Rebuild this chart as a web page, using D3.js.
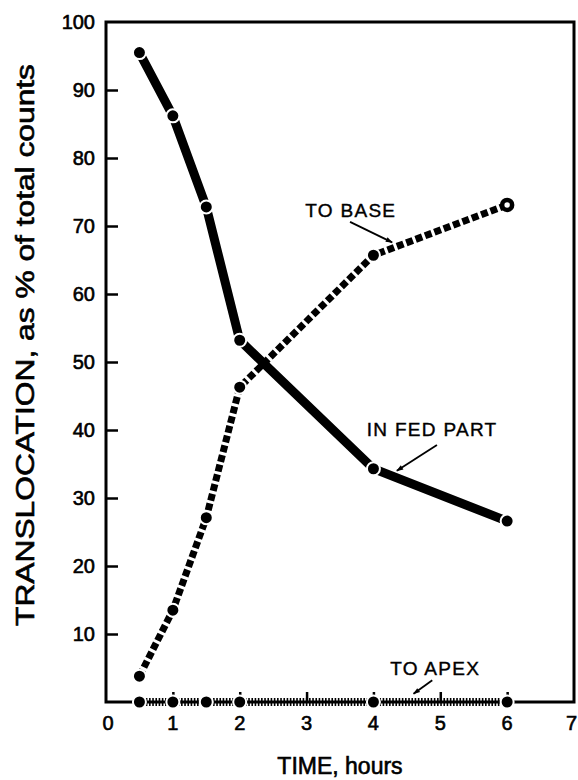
<!DOCTYPE html>
<html>
<head>
<meta charset="utf-8">
<script src="https://cdn.jsdelivr.net/npm/d3@7"></script>
<style>
  body { margin: 0; background: #fff; }
  svg { display: block; font-family: "Liberation Sans", Arial, sans-serif; }
</style>
</head>
<body>
<div id="chart"></div>
<script>
// Data
const hours = [0.5, 1, 1.5, 2, 4, 6];
const fedPart = [95.5, 86.2, 72.8, 53.2, 34.3, 26.6];
const toBase = [3.8, 13.5, 27.1, 46.3, 65.7, 73.1];
const toApex = [0, 0, 0, 0, 0, 0];
const xTicks = [0, 1, 2, 3, 4, 5, 6, 7];
const yTicks = [10, 20, 30, 40, 50, 60, 70, 80, 90, 100];
const notes = [
  {text: "TO BASE", x: 2.98, y: 71.3, ax1: 3.65, ay1: 70.6, ax2: 4.28, ay2: 67.6},
  {text: "IN FED PART", x: 3.9, y: 39.1, ax1: 4.95, ay1: 37.8, ax2: 4.35, ay2: 34.0},
  {text: "TO APEX", x: 4.25, y: 4.0, ax1: 4.88, ay1: 3.2, ax2: 4.6, ay2: 1.2}
];

const WIDTH = 578, HEIGHT = 780;
const LEFT = 106, RIGHT = 574, TOP = 22, BOTTOM = 702;

const svg = d3.select("#chart").append("svg")
    .attr("width", WIDTH)
    .attr("height", HEIGHT);

const defs = svg.append("defs");
defs.append("marker")
    .attr("id", "arrow")
    .attr("viewBox", "0 0 10 10")
    .attr("refX", 9).attr("refY", 5)
    .attr("markerWidth", 9).attr("markerHeight", 7)
    .attr("markerUnits", "userSpaceOnUse")
    .attr("orient", "auto")
  .append("path")
    .attr("d", "M0,1.5 L10,5 L0,8.5 Z")
    .attr("fill", "#000");

const x = d3.scaleLinear().domain([0, 7]).range([LEFT, RIGHT]);
const y = d3.scaleLinear().domain([0, 100]).range([BOTTOM, TOP]);

// frame
svg.append("rect")
    .attr("x", LEFT).attr("y", TOP)
    .attr("width", RIGHT - LEFT).attr("height", BOTTOM - TOP)
    .attr("fill", "none").attr("stroke", "#000").attr("stroke-width", 3);

// Axes (ticks point inward)
const yAxis = d3.axisRight(y).tickValues(yTicks.slice(0, -1)).tickSize(12).tickFormat("");
svg.append("g").attr("transform", "translate(" + LEFT + ",0)").call(yAxis)
    .call(g => g.select(".domain").remove())
    .selectAll("line").attr("stroke-width", 2.5);

const xAxis = d3.axisTop(x).tickValues(xTicks.slice(1, -1)).tickSize(10).tickFormat("");
svg.append("g").attr("transform", "translate(0," + BOTTOM + ")").call(xAxis)
    .call(g => g.select(".domain").remove())
    .selectAll("line").attr("stroke-width", 2.5);

// tick labels
svg.append("g").selectAll("text")
    .data(yTicks)
    .enter().append("text")
    .attr("x", LEFT - 11)
    .attr("y", d => y(d) + 7)
    .attr("text-anchor", "end")
    .attr("stroke", "#000").attr("stroke-width", 0.6)
    .style("font-size", "20px")
    .text(d => d);

svg.append("g").selectAll("text")
    .data(xTicks)
    .enter().append("text")
    .attr("x", d => d === 0 ? x(d) + 2 : d === 7 ? WIDTH - 1 : x(d))
    .attr("y", BOTTOM + 28)
    .attr("text-anchor", d => d === 7 ? "end" : "middle")
    .attr("stroke", "#000").attr("stroke-width", 0.6)
    .style("font-size", "20px")
    .text(d => d);

// axis titles
svg.append("text")
    .attr("x", 340).attr("y", 774)
    .attr("text-anchor", "middle")
    .attr("stroke", "#000").attr("stroke-width", 0.6)
    .style("font-size", "23px")
    .text("TIME, hours");

svg.append("text")
    .attr("transform", "translate(34,345) rotate(-90)")
    .attr("text-anchor", "middle")
    .attr("textLength", 562)
    .attr("lengthAdjust", "spacingAndGlyphs")
    .attr("stroke", "#000").attr("stroke-width", 0.6)
    .style("font-size", "25px")
    .text("TRANSLOCATION, as % of total counts");

const line = d3.line().x((d, i) => x(hours[i])).y(d => y(d));

// to apex: fine hatched band along the axis
svg.append("path")
    .attr("d", line(toApex))
    .attr("fill", "none")
    .attr("stroke", "#000")
    .attr("stroke-width", 8)
    .attr("stroke-dasharray", "1.6,1.6");

// to base: thick dashed line
svg.append("path")
    .attr("d", line(toBase))
    .attr("fill", "none")
    .attr("stroke", "#000")
    .attr("stroke-width", 7)
    .attr("stroke-dasharray", "7,3");

// in fed part: heavy solid line
svg.append("path")
    .attr("d", line(fedPart))
    .attr("fill", "none")
    .attr("stroke", "#000")
    .attr("stroke-width", 9);

// markers
function dots(values, cls, lastOpen) {
  const open = (i) => lastOpen && i === values.length - 1;
  svg.append("g").selectAll("circle")
      .data(values)
      .enter().append("circle")
      .attr("class", cls)
      .attr("cx", (d, i) => x(hours[i]))
      .attr("cy", d => y(d))
      .attr("r", (d, i) => open(i) ? 5 : 6.5)
      .attr("fill", (d, i) => open(i) ? "#fff" : "#000")
      .attr("stroke", (d, i) => open(i) ? "#000" : "#fff")
      .attr("stroke-width", (d, i) => open(i) ? 4.5 : 2);
}
dots(toApex, "apex", false);
dots(toBase, "base", true);
dots(fedPart, "fed", false);

// annotations
const ann = svg.append("g").selectAll("g").data(notes).enter().append("g");
ann.append("text")
    .attr("x", d => x(d.x)).attr("y", d => y(d.y))
    .attr("stroke", "#000").attr("stroke-width", 0.4)
    .style("font-size", "19px")
    .style("letter-spacing", "1.3px")
    .text(d => d.text);
ann.append("line")
    .attr("x1", d => x(d.ax1)).attr("y1", d => y(d.ay1))
    .attr("x2", d => x(d.ax2)).attr("y2", d => y(d.ay2))
    .attr("stroke", "#000").attr("stroke-width", 1.8)
    .attr("marker-end", "url(#arrow)");
</script>
</body>
</html>
